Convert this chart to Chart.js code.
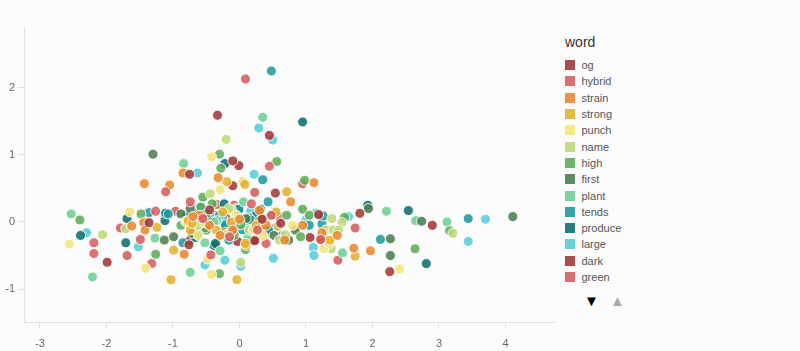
<!DOCTYPE html>
<html><head><meta charset="utf-8">
<script src="https://cdn.jsdelivr.net/npm/chart.js@4/dist/chart.umd.min.js"></script>
<style>
html,body{margin:0;padding:0;background:#fdfcfd;}
#wrap{position:relative;width:800px;height:351px;overflow:hidden;font-family:"Liberation Sans",Arial,sans-serif;}
#cv{position:absolute;left:0;top:0;}
#legend{position:absolute;left:565px;top:32px;}
#legend .t{font-size:14px;color:#333;height:20px;line-height:20px;margin-bottom:5px;}
#legend .it{height:16.3px;display:flex;align-items:center;font-size:11px;color:#555;}
#legend .sw{width:10px;height:10px;margin-right:6.5px;}
#arrows{position:absolute;top:292px;left:584px;font-size:15px;}
#arrows span{display:inline-block;width:26px;}
</style></head>
<body><div id="wrap"><canvas id="cv" width="560" height="351"></canvas><div id="legend"></div><div id="arrows"><span style="color:#000">▼</span><span style="color:#aaa">▲</span></div></div>
<script>
const words = ["og","hybrid","strain","strong","punch","name","high","first","plant","tends","produce","large","dark","green"];
const colors = ["#a03838","#d65e5e","#e8892f","#e6b12b","#f5e47a","#bdd97a","#5fad5a","#4b7d52","#6fcf94","#1f9b9e","#0f6e70","#56cdd6","#a03838","#d65e5e"];
const xTicks = [-3,-2,-1,0,1,2,3,4];
const yTicks = [-1,0,1,2];

const og = [[-0.33,1.59],[0.45,1.29],[-0.10,0.91],[-0.75,0.71],[1.81,0.13],[2.90,-0.05],[0.34,0.04],[-0.76,-0.34],[-1.36,-0.01],[1.19,0.11],[0.23,-0.28],[-0.45,0.18],[0.62,-0.02]];
const hybrid = [[0.09,2.13],[0.45,0.83],[-1.11,0.45],[1.74,-0.09],[-0.43,-0.49],[-1.49,-0.26],[-2.19,-0.31],[-1.26,0.16],[-0.74,0.30],[0.18,0.27],[1.22,-0.26],[0.27,-0.12],[-0.55,0.05],[-0.15,-0.22],[0.48,0.10]];
const strain = [[-0.85,0.73],[-0.32,0.66],[1.12,0.585],[-1.43,0.57],[-1.05,0.55],[0.77,0.30],[1.97,-0.43],[1.72,-0.39],[1.47,-0.20],[1.24,-0.16],[-0.83,-0.48],[-1.62,-0.06],[-1.44,-0.01],[-1.42,-0.12],[-0.29,-0.20],[-0.10,-0.12],[0.68,-0.27],[0.0,0.04],[-0.60,0.10],[0.40,-0.05],[0.95,-0.05],[0.30,0.17],[-0.45,-0.05],[-0.70,0.08]];
const strong = [[-0.19,0.60],[0.08,0.56],[0.71,0.45],[0.10,-0.35],[-0.04,-0.86],[-1.03,-0.86],[-0.99,-0.42],[1.74,-0.51],[-1.24,-0.08],[-0.12,0.0],[-0.74,-0.12],[-0.77,0.02],[1.36,-0.27],[0.09,-0.32],[-0.71,-0.02],[0.55,0.15],[-0.25,0.15],[0.25,-0.05],[-0.35,-0.12]];
const punch = [[-0.42,0.97],[-0.29,0.48],[2.41,-0.70],[1.27,-0.40],[-0.48,-0.55],[-0.42,-0.78],[-1.41,-0.69],[-2.56,-0.33],[-1.65,0.15],[-0.79,0.0],[-0.53,-0.01],[-0.18,-0.17],[0.21,-0.12],[1.35,-0.32],[0.05,0.60],[0.80,-0.05],[-0.05,0.10],[-0.62,-0.20],[0.35,-0.20]];
const name = [[-0.20,1.23],[-0.44,0.42],[3.21,-0.17],[1.54,-0.01],[1.38,-0.40],[-2.06,-0.19],[-1.71,-0.10],[-0.81,0.01],[-0.12,0.18],[0.15,-0.12],[0.58,-0.07],[0.60,-0.27],[1.30,-0.12],[1.41,-0.12],[1.49,-0.12],[0.02,-0.60],[0.69,-0.19],[1.39,0.05],[-0.16,0.20],[0.06,0.60],[-0.62,-0.05],[0.40,0.05]];
const high = [[-0.30,1.01],[-0.28,0.80],[0.56,0.90],[0.98,0.62],[-0.55,0.37],[0.95,0.19],[1.58,0.07],[3.16,-0.13],[2.64,-0.40],[0.09,-0.41],[-0.30,-0.77],[-1.26,-0.48],[-2.40,0.03],[-1.48,0.12],[-0.88,-0.05],[-0.58,0.22],[-0.50,0.12],[-0.41,0.27],[0.71,0.10],[0.92,-0.22],[1.05,0.10],[0.02,-0.04],[-0.51,-0.09],[0.30,0.02],[-0.08,-0.20]];
const first = [[-1.30,1.01],[2.74,0.01],[4.11,0.08],[2.27,-0.25],[2.27,-0.50],[0.84,-0.12],[0.32,0.19],[-0.50,-0.12],[-0.99,-0.22],[-1.13,-0.27],[-0.74,0.20],[-0.71,-0.17],[0.74,-0.27],[1.94,0.20],[-0.20,-0.15],[0.10,0.05],[-0.88,0.12],[0.52,-0.20]];
const plant = [[0.35,1.56],[-0.84,0.87],[2.21,0.16],[2.65,0.02],[3.12,0.0],[1.55,-0.46],[-0.29,-0.43],[-0.74,-0.75],[-1.27,-0.24],[-0.52,-0.31],[-2.21,-0.82],[-2.53,0.12],[0.06,0.30],[-0.34,0.02],[-0.38,0.0],[0.30,-0.10],[0.12,-0.25],[-0.60,0.02]];
const tends = [[0.48,2.25],[0.35,0.63],[0.43,0.30],[3.44,0.05],[2.12,-0.26],[1.24,-0.03],[1.26,0.09],[1.05,-0.05],[0.51,0.12],[0.15,0.06],[-0.85,-0.31],[-1.36,0.14],[-1.07,0.12],[-0.63,0.20],[-0.61,-0.17],[-0.01,0.19],[0.17,0.03],[0.44,-0.12],[-0.21,-0.04],[-0.16,-0.27],[-0.58,0.23],[-0.30,0.10],[0.05,-0.12]];
const produce = [[0.95,1.49],[-0.22,0.87],[1.93,0.25],[2.54,0.17],[2.81,-0.62],[0.0,0.19],[0.44,-0.14],[-0.21,-0.07],[-0.66,-0.23],[-0.38,-0.35],[-1.71,-0.31],[-2.39,-0.20],[-1.69,0.05],[-1.12,0.02],[-1.11,0.13],[-0.23,0.27],[-0.36,-0.32],[-0.80,0.10],[0.25,0.10],[-0.48,0.05]];
const large = [[0.29,1.40],[0.50,1.22],[-0.63,0.73],[0.22,0.71],[1.64,0.08],[3.70,0.04],[3.44,-0.29],[1.11,-0.38],[1.12,-0.50],[1.00,0.03],[0.51,-0.54],[0.02,-0.66],[-0.22,-0.57],[-0.52,-0.64],[-1.52,-0.37],[-2.30,-0.16],[0.17,0.16],[-0.41,0.07],[1.15,0.13],[-0.05,0.20],[-0.25,0.05],[0.08,-0.05]];
const dark = [[-0.01,0.84],[-0.10,0.54],[0.54,0.43],[2.26,-0.74],[0.22,-0.27],[-1.99,-0.60],[1.06,-0.23],[0.54,-0.09],[-0.03,-0.29],[1.23,-0.27],[-0.20,0.05],[-0.75,-0.28]];
const green = [[0.95,0.57],[0.23,0.44],[1.48,-0.57],[0.40,-0.32],[-1.32,-0.62],[-1.69,-0.50],[-2.19,-0.47],[-1.79,-0.09],[-0.96,0.16],[-0.34,0.26],[-0.08,0.25],[0.63,-0.20],[-0.36,0.10],[0.60,0.08],[-0.10,-0.08]];

const series = [og,hybrid,strain,strong,punch,name,high,first,plant,tends,produce,large,dark,green];

function alpha(hex,a){const n=parseInt(hex.slice(1),16);return `rgba(${n>>16},${(n>>8)&255},${n&255},${a})`;}

const datasets = words.map((w,i)=>({
  label:w,
  data:series[i].map(p=>({x:p[0],y:p[1]})),
  backgroundColor:alpha(colors[i],0.88),
  borderColor:'rgba(255,255,255,0.9)',
  borderWidth:1,
  pointRadius:5,
  pointHoverRadius:5
}));

const leg=document.getElementById('legend');
let h='<div class="t">word</div>';
words.forEach((w,i)=>{h+=`<div class="it"><div class="sw" style="background:${alpha(colors[i],0.9)}"></div><span>${w}</span></div>`;});
leg.innerHTML=h;

new Chart(document.getElementById('cv'),{
  type:'scatter',
  data:{datasets},
  options:{
    responsive:false,animation:false,
    layout:{padding:{top:28,right:4,left:0,bottom:0}},
    plugins:{legend:{display:false},tooltip:{enabled:false}},
    scales:{
      x:{type:'linear',min:-3.24,max:4.73,
        afterBuildTicks:(ax)=>{ax.ticks=xTicks.map(v=>({value:v}));},
        afterFit:(ax)=>{ax.height=29;},
        grid:{drawOnChartArea:false,drawTicks:true,tickLength:6,color:'#e2e2e2'},
        border:{display:true,color:'#dedede',width:1},
        ticks:{color:'#666',font:{family:'"Liberation Sans", Arial, sans-serif',size:11},padding:9,maxRotation:0}
      },
      y:{type:'linear',min:-1.49,max:2.89,
        afterBuildTicks:(ax)=>{ax.ticks=yTicks.map(v=>({value:v}));},
        afterFit:(ax)=>{ax.width=24;},
        grid:{drawOnChartArea:false,drawTicks:true,tickLength:6,color:'#e2e2e2'},
        border:{display:true,color:'#dedede',width:1},
        ticks:{color:'#666',font:{family:'"Liberation Sans", Arial, sans-serif',size:11},padding:3}
      }
    }
  }
});
</script></body></html>
